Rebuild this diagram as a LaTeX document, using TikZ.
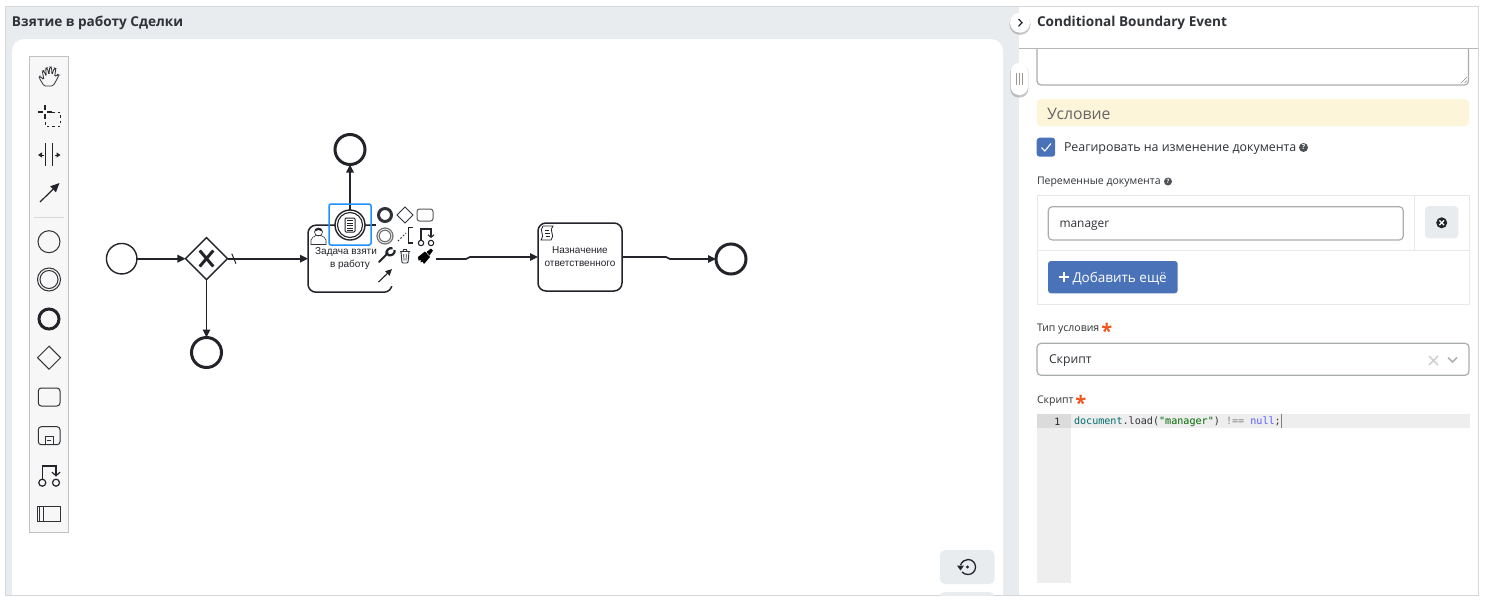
\documentclass[tikz,border=0pt]{standalone}
\usepackage{fontspec}
\setmainfont{Open Sans}
\newfontfamily\bpmnfont{Liberation Sans}
\setmonofont{DejaVu Sans Mono}
\usetikzlibrary{calc,shapes.geometric,arrows.meta,shadows}
\definecolor{panelgray}{HTML}{E8ECEF}
\definecolor{edgegray}{HTML}{D5D8DB}
\definecolor{inkdark}{HTML}{22242A}
\definecolor{textdark}{HTML}{2F3237}
\definecolor{btnblue}{HTML}{4A72B8}
\definecolor{hilite}{HTML}{1E90FF}
\definecolor{barcream}{HTML}{FDF5D9}
\definecolor{starred}{HTML}{F2541B}
\definecolor{codegray}{HTML}{EEEEEE}
\tikzset{
	flow/.style={draw=inkdark,line width=1.6pt,-{Triangle[length=8pt,width=7.5pt]}},
	plainflow/.style={draw=inkdark,line width=1.6pt},
	startevent/.style={circle,draw=inkdark,line width=1.4pt,minimum size=30.5pt,fill=white},
	endevent/.style={circle,draw=inkdark,line width=3pt,minimum size=30pt,fill=white},
	gateway/.style={diamond,draw=inkdark,line width=1.4pt,minimum size=42pt,fill=white},
	bpmntask/.style={rectangle,rounded corners=8pt,draw=inkdark,line width=1.5pt,minimum width=84pt,minimum height=67pt,fill=white},
	bpmnlabel/.style={font=\bpmnfont\fontsize{10}{12.5}\selectfont,text=inkdark,align=center},
	tool/.style={draw=textdark,line width=1pt},
	padicon/.style={draw=textdark,line width=1.1pt},
	panellabel/.style={anchor=west,text=textdark,font=\fontsize{10.5}{12}\selectfont},
	fieldbox/.style={rectangle,rounded corners=4pt,draw=edgegray!80!black,line width=1.2pt,fill=white,anchor=north west},
	softbtn/.style={rectangle,rounded corners=4pt,fill=panelgray,anchor=north west},
	helpmark/.style={circle,fill=textdark!85,text=white,minimum size=9pt,font=\bfseries\fontsize{7}{7}\selectfont},
	requiredmark/.style={text=starred,font=\bfseries\fontsize{20}{20}\selectfont},
	roundbtn/.style={fill=white,drop shadow={shadow xshift=0pt,shadow yshift=-1.5pt,shadow scale=1.06,opacity=0.45}}
}
\begin{document}
\begin{tikzpicture}[x=1pt,y=-1pt,inner sep=0in,outer sep=0in]
	\useasboundingbox (0,0) rectangle (1489,603);
	\fill[white] (0,0) rectangle (1489,603);

	\fill[panelgray] (5,6) rectangle (1019,595);
	\fill[white,rounded corners=12pt] (12,39) -- (1003,39) -- (1003,620) -- (12,620) -- cycle;
	\fill[white] (0,595.5) rectangle (1489,603);
	\fill[white] (1019,6) rectangle (1478,595);
	\draw[edgegray,line width=1pt] (5,6) rectangle (1478,595);
	\draw[edgegray!85!black,line width=1pt] (1019,48.3) -- (1478,48.3);

	\node[anchor=west,text=textdark,font=\bfseries\fontsize{13.6}{15}\selectfont] at (12,23) (maintitle) {Взятие в работу Сделки};

	\node[rectangle,draw=edgegray!90!black,fill=black!3,line width=1pt,minimum width=39.5pt,minimum height=476.5pt] at (49.2,294.3) (toolbar) {};
	\draw[edgegray,line width=1pt] (34,217) -- (64,217);

	\draw[tool,line width=0.8pt,rounded corners=1.5pt] (44,86) -- (53,86) -- (56,81) -- (59,75) -- (57.5,74.5) -- (54.5,77) -- (56,68.5) -- (54.3,68) -- (52,75) -- (51.5,67) -- (49.7,67) -- (49,75) -- (47.3,67.8) -- (45.7,68.2) -- (46.3,76.5) -- (43.8,70.5) -- (42.3,71) -- (44,80) -- (40,76) -- (39,77.5) -- cycle;
	\draw[inkdark,line width=2pt] (38,112) -- (43,112) (47,112) -- (52,112) (45,105) -- (45,110) (45,114) -- (45,119);
	\draw[inkdark,line width=1pt,dash pattern=on 2.5pt off 3pt] (52,112) -- (60,112) -- (60,126) -- (45,126) -- (45,120);
	\draw[inkdark,line width=1pt] (45.7,143) -- (45.7,166) (52.7,143) -- (52.7,166);
	\draw[inkdark,line width=1pt,-{Triangle[length=4pt,width=5pt]}] (43.5,155) -- (38,155);
	\draw[inkdark,line width=1pt,-{Triangle[length=4pt,width=5pt]}] (55,155) -- (60.5,155);
	\draw[inkdark,line width=1.2pt,-{Triangle[length=9pt,width=8pt]}] (40,202) -- (59.5,183);
	\draw[tool] (49,241.7) circle (11);
	\draw[tool] (49,279.5) circle (11.5);
	\draw[tool] (49,279.5) circle (9);
	\draw[inkdark,line width=3pt] (49,319) circle (10);
	\draw[tool] (49,346.2) -- (60.5,357.7) -- (49,369.2) -- (37.5,357.7) -- cycle;
	\draw[tool,rounded corners=3pt] (38.3,388) rectangle (60,406);
	\draw[tool,rounded corners=3pt] (38.3,426.7) rectangle (60,444.7);
	\draw[tool,line width=0.8pt] (45,444.7) -- (45,436) -- (53.3,436) -- (53.3,444.7) (47,440.3) -- (51.3,440.3);
	\draw[inkdark,line width=1.2pt] (42.3,482.7) circle (3.5) (56,482.7) circle (3.5);
	\draw[inkdark,line width=1.2pt,-{Straight Barb[length=3.5pt,width=8pt]}] (42.3,479) -- (42.3,466) -- (56,466) -- (56,476.5);
	\draw[tool] (37.7,506) rectangle (60.7,521.3);
	\draw[tool,line width=0.7pt] (39.7,506) -- (39.7,521.3) (43,506) -- (43,521.3);

	\node[startevent] at (121.7,258.7) (start) {};
	\node[gateway] at (206.5,258.7) (gate) {};
	\node[endevent] at (206.5,352.5) (endlow) {};
	\node[bpmntask] at (350,258.7) (taketask) {};
	\node[bpmntask,minimum height=68pt] at (580,257) (scripttask) {};
	\node[endevent] at (731,259) (endright) {};
	\node[endevent] at (350,149.5) (endtop) {};
	\node[circle,draw=inkdark,line width=1.4pt,minimum size=30pt,fill=white] at (350,225) (boundary) {};
	\node[circle,draw=inkdark,line width=1.1pt,minimum size=25pt] at (350,225) (boundaryin) {};

	\coordinate (gatetick) at (233.8,258.7);
	\coordinate (padout) at (436,259);
	\coordinate (padbend) at (466,259);
	\coordinate (padbendb) at (470,257);
	\coordinate (scriptout) at (622,257);
	\coordinate (scriptbend) at (666,257);
	\coordinate (scriptbendb) at (670,259);

	\draw[flow] (start)--(gate);
	\draw[plainflow] (gate)--(gatetick);
	\draw[flow] (gatetick)--(taketask.west);
	\draw[inkdark,line width=1pt] ($(gatetick)+(-2,-5)$)--($(gatetick)+(2.2,5)$);
	\draw[flow] (gate)--(endlow);
	\draw[flow] (boundary)--(endtop);
	\draw[flow] (padout)--(padbend)--(padbendb)--(scripttask.west);
	\draw[flow] (scriptout)--(scriptbend)--(scriptbendb)--(endright);

	\draw[inkdark,line width=3pt] (199.7,250.5) -- (213.3,266.5) (213.3,250.5) -- (199.7,266.5);

	\node[rectangle,fill=white,minimum width=60pt,minimum height=80pt,anchor=north west] at (376,206) (padmask) {};
	\draw[inkdark,line width=1.5pt] (371,225) -- (376,225);

	\node[bpmnlabel] at (346,252) (tasklabela) {Задача взяти};
	\node[bpmnlabel] at (350,265) (tasklabelb) {в работу};
	\node[bpmnlabel,text width=80pt] at (580,256.5) (scriptlabel) {Назначение\\ответственного};

	\draw[textdark,line width=0.6pt] (311,244.5) -- (311,240) .. controls (311,237.5) and (314.5,236.5) .. (316,235.5) -- (321,235.5) .. controls (322.5,236.5) and (326,237.5) .. (326,240) -- (326,244.5) -- cycle;
	\draw[textdark,line width=0.6pt] (318.5,232) circle (4);
	\fill[inkdark] (314.5,231.5) .. controls (315,226.5) and (322,226.5) .. (322.5,231.5) .. controls (320,229.5) and (317,229.5) .. (314.5,231.5) -- cycle;
	\draw[inkdark,line width=0.8pt] (543,226) -- (553,226) .. controls (551,229) and (551,231) .. (552,233) .. controls (553,235) and (553,238) .. (551,240) -- (541,240) .. controls (543,238) and (543,235) .. (542,233) .. controls (541,231) and (541,228) .. (543,226);
	\draw[inkdark,line width=0.6pt] (544.5,230) -- (549,230) (545,233) -- (549.5,233) (545.5,236) -- (550,236);

	\draw[inkdark,line width=1pt,rounded corners=1pt,fill=white] (345,218) rectangle (355,232);
	\foreach \rowy in {220.5,223,225.5,228,230} {
		\draw[inkdark,line width=0.7pt] (347,\rowy) -- (353,\rowy);
	}
	\node[rectangle,rounded corners=2pt,draw=hilite,line width=1.5pt,minimum width=42pt,minimum height=41pt] at (350,224.5) (selectbox) {};

	\draw[textdark,line width=3pt] (385,215) circle (6.5);
	\draw[padicon,line width=1pt] (405,207) -- (413,215) -- (405,223) -- (397,215) -- cycle;
	\draw[padicon,line width=1pt,black!65,rounded corners=2.5pt] (417,209) rectangle (433,221);
	\draw[black!55,line width=1.2pt] (385,236) circle (8);
	\draw[black!55,line width=1.2pt] (385,236) circle (5.8);
	\draw[inkdark,line width=1pt,dash pattern=on 1.5pt off 2pt] (398,241) -- (406,233);
	\draw[inkdark,line width=1.1pt] (413,227.5) -- (408.5,227.5) -- (408.5,243) -- (413,243);
	\draw[inkdark,line width=1.1pt] (421,243) circle (2.7) (431,243) circle (2.7);
	\draw[inkdark,line width=1.1pt,-{Straight Barb[length=2.5pt,width=6pt]}] (421,240) -- (421,229) -- (431,229) -- (431,238);
	\draw[inkdark,line width=2pt,line cap=round] (379,262) -- (388,253);
	\draw[inkdark,line width=2.2pt] (386.5,254.5) .. controls (385.5,250.5) and (389,247.5) .. (392.5,248.2);
	\draw[inkdark,line width=2.2pt] (387.5,255) .. controls (391.5,256.5) and (395.5,253.5) .. (394.5,250);
	\draw[padicon,line width=0.9pt] (400,251.5) -- (410,251.5) (403,251.5) -- (403.5,249.5) -- (406.5,249.5) -- (407,251.5);
	\draw[padicon,line width=0.9pt,rounded corners=1pt] (401,251.5) -- (402,263) -- (408,263) -- (409,251.5);
	\draw[padicon,line width=0.7pt] (403.7,254) -- (404,260.5) (406.3,254) -- (406,260.5);
	\fill[black] (418,257) -- (425,251.5) -- (430,257) -- (424,264) -- (422.5,261.5) -- (420.5,262.5) -- (421,260) -- (418.5,260.5) -- cycle;
	\fill[black] (426.5,252) -- (431,248.5) -- (433,250.5) -- (429.5,255.5) -- cycle;
	\draw[inkdark,line width=1.1pt,-{Triangle[length=6.5pt,width=6pt]}] (378.5,282) -- (392,269);

	\node[rectangle,rounded corners=5pt,fill=panelgray,minimum width=54.5pt,minimum height=34pt,anchor=north west] at (940,550) (restorebtn) {};
	\draw[inkdark,line width=1.3pt] (960.5,565) .. controls (962,561.5) and (965,559.5) .. (968,559.5) .. controls (972.5,559.5) and (975.5,563) .. (975.5,567) .. controls (975.5,571.5) and (972,574.5) .. (968,574.5) .. controls (965.5,574.5) and (963.5,573.5) .. (962,572);
	\fill[inkdark] (957,565.5) -- (964,565.5) -- (960.5,570.5) -- cycle;
	\fill[inkdark] (967.5,567) circle (1.7);
	\begin{scope}
		\clip (930,585) rectangle (1003,595);
		\node[rectangle,rounded corners=5pt,fill=panelgray,minimum width=54.5pt,minimum height=20pt,anchor=north west] at (940,592) (zoombtn) {};
	\end{scope}

	\node[anchor=west,text=textdark,font=\bfseries\fontsize{13.6}{15}\selectfont] at (1037,23) (paneltitle) {Conditional Boundary Event};

	\begin{scope}
		\clip (1030,49) rectangle (1475,90);
		\node[fieldbox,minimum width=431.5pt,minimum height=60pt] at (1037,25) (notefield) {};
	\end{scope}
	\draw[black!45,line width=0.5pt] (1461,83) -- (1467,77) (1464.5,83) -- (1467,80.5);

	\node[circle,roundbtn,minimum size=20pt] at (1020,22.7) (collapsebtn) {};
	\draw[inkdark,line width=1.2pt] (1018.5,19) -- (1022,22.7) -- (1018.5,26.4);
	\node[rectangle,rounded corners=8pt,roundbtn,minimum width=17pt,minimum height=32pt] at (1019.3,79) (dragbtn) {};
	\draw[black!40,line width=0.7pt] (1016,73) -- (1016,85) (1019.3,73) -- (1019.3,85) (1022.6,73) -- (1022.6,85);

	\node[rectangle,rounded corners=4pt,fill=barcream,minimum width=432.5pt,minimum height=27pt,anchor=north west] at (1036.7,99) (condbar) {};
	\node[anchor=west,text=black!60,font=\fontsize{15.8}{18}\selectfont] at (1047,113.5) (condtitle) {Условие};

	\node[rectangle,rounded corners=3pt,fill=btnblue,minimum width=18.5pt,minimum height=19pt,anchor=north west] at (1036.7,137.7) (checkbox) {};
	\draw[white,line width=1.1pt] (1041.5,147.5) -- (1044.8,151) -- (1051,143.5);
	\node[anchor=west,text=textdark,font=\fontsize{12.4}{14}\selectfont] at (1064,149) (checklabel) {Реагировать на изменение документа};
	\node[helpmark] at (1303.5,147.5) (checkhelp) {?};

	\node[panellabel] at (1037,182) (varlabel) {Переменные документа};
	\node[helpmark,minimum size=8pt,font=\bfseries\fontsize{6}{6}\selectfont] at (1168,181.5) (varhelp) {?};

	\draw[edgegray!60,line width=1pt] (1037,195) rectangle (1469,304);
	\draw[edgegray!60,line width=1pt] (1037,250.3) -- (1469,250.3) (1414,195) -- (1414,250.3);
	\node[fieldbox,minimum width=355pt,minimum height=33.3pt] at (1048.3,206.7) (varfield) {};
	\node[anchor=west,text=textdark,font=\fontsize{11.9}{14}\selectfont] at (1059.5,225.5) (vartext) {manager};
	\node[softbtn,minimum width=33.3pt,minimum height=32.3pt] at (1425,206) (removebtn) {};
	\node[circle,fill=inkdark,minimum size=11pt] at (1441.7,222.8) (removedot) {};
	\draw[white,line width=1.2pt] (1439.4,220.5) -- (1444,225.1) (1444,220.5) -- (1439.4,225.1);

	\node[rectangle,rounded corners=3pt,fill=btnblue,minimum width=129.7pt,minimum height=32.3pt,anchor=north west] at (1048,261) (addbtn) {};
	\draw[white,line width=2.2pt] (1058.7,277) -- (1069,277) (1063.8,272) -- (1063.8,282);
	\node[anchor=west,text=white,font=\fontsize{13.5}{15}\selectfont] at (1072.5,279) (addtext) {Добавить ещё};

	\node[panellabel] at (1037,329) (typelabel) {Тип условия};
	\node[requiredmark] at (1106.7,331) (typestar) {*};
	\node[fieldbox,minimum width=432pt,minimum height=32pt] at (1037,343.3) (typefield) {};
	\node[anchor=west,text=textdark,font=\fontsize{12.2}{14}\selectfont] at (1049,361) (typetext) {Скрипт};
	\draw[black!18,line width=1.6pt] (1429,356) -- (1438,365) (1438,356) -- (1429,365);
	\draw[black!30,line width=1.6pt] (1448,357.5) -- (1452.5,362) -- (1457,357.5);

	\node[panellabel] at (1037,401) (scriptfieldlabel) {Скрипт};
	\node[requiredmark] at (1080.7,403) (scriptstar) {*};

	\fill[codegray] (1037,414) rectangle (1071,582.7);
	\fill[black!14] (1037,414) rectangle (1071,427.7);
	\fill[codegray] (1071,414) rectangle (1469.5,427.7);
	\node[anchor=east,text=inkdark,font=\ttfamily\fontsize{10}{12}\selectfont] at (1060.5,422) (lineno) {1};
	\node[anchor=west,font=\ttfamily\fontsize{10.1}{12}\selectfont] at (1074,422) (codeline) {\textcolor{teal!85!black}{document}\textcolor{textdark}{.load(}\textcolor{green!40!black}{"manager"}\textcolor{textdark}{) }\textcolor{black!50}{!==} \textcolor{blue!65}{null}\textcolor{textdark}{;}};
	\draw[black!50,line width=0.7pt] (1281.5,414) -- (1281.5,427.7);
\end{tikzpicture}
\end{document}
